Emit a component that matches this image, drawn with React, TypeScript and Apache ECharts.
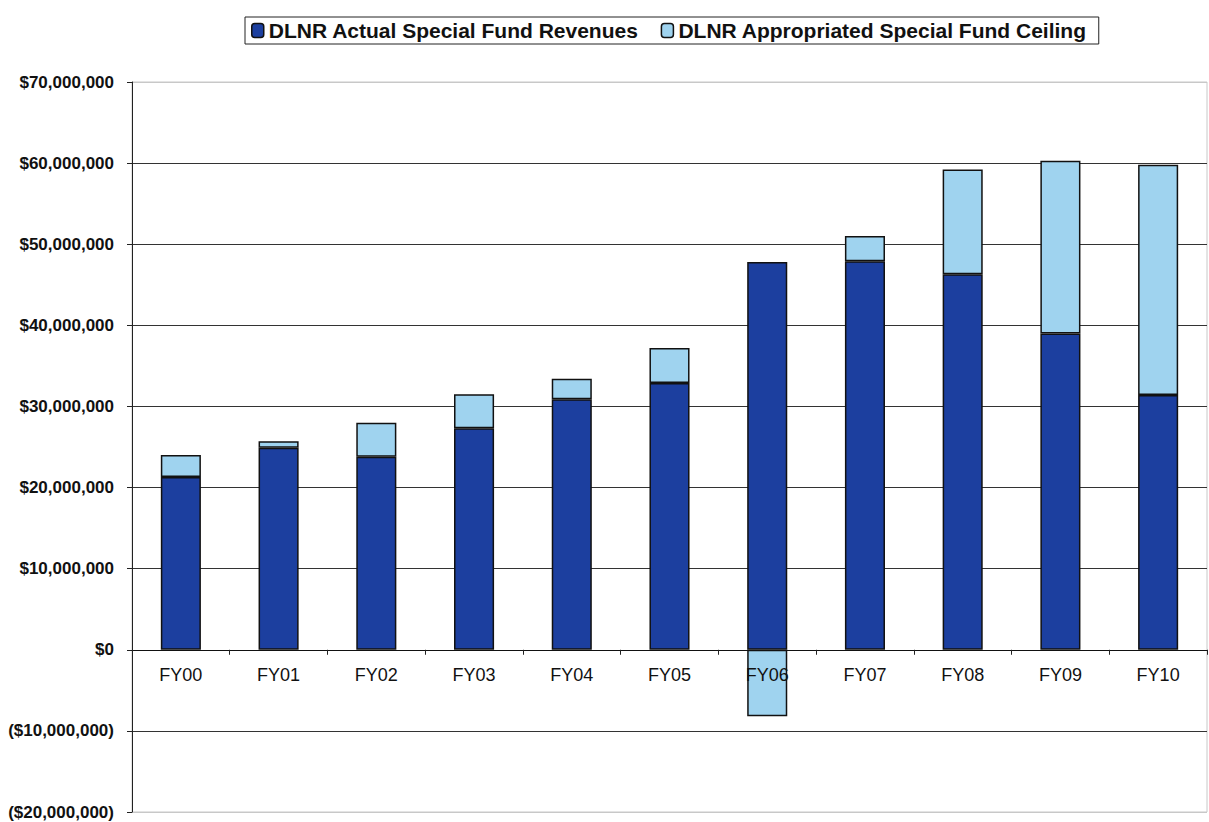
import React, { useEffect, useRef } from "react";
import * as echarts from "echarts";

const categories = ["FY00", "FY01", "FY02", "FY03", "FY04", "FY05", "FY06", "FY07", "FY08", "FY09", "FY10"];
const actualRevenues = [21300000, 24900000, 23800000, 27300000, 30900000, 32900000, 47800000, 47900000, 46300000, 39000000, 31400000];
const ceilingSegment = [2700000, 800000, 4200000, 4200000, 2500000, 4300000, -8200000, 3100000, 12900000, 21300000, 28400000];
const seriesNames = ["DLNR Actual Special Fund Revenues", "DLNR Appropriated Special Fund Ceiling"];
const yMin = -20000000;
const yMax = 70000000;
const yStep = 10000000;

const fmt = (v: number) => {
  const s = "$" + Math.abs(v).toLocaleString("en-US");
  return v < 0 ? "(" + s + ")" : s;
};

export default function App() {
  const ref = useRef<HTMLDivElement>(null);
  useEffect(() => {
    const chart = echarts.init(ref.current!, null, { renderer: "svg" });
    const font = "'Liberation Sans', Arial, sans-serif";
    chart.setOption({
      animation: false,
      backgroundColor: "#ffffff",
      legend: {
        top: 17,
        left: 245,
        itemWidth: 12,
        itemHeight: 14,
        itemGap: 22,
        itemStyle: { borderColor: "#111", borderWidth: 1.5 },
        padding: [3, 12, 3, 6],
        borderColor: "#222",
        borderWidth: 1,
        textStyle: { fontFamily: font, fontSize: 21, fontWeight: "bold", color: "#111" },
        data: seriesNames,
      },
      grid: {
        left: 132,
        right: 2,
        top: 82,
        bottom: 10,
        show: true,
        borderColor: "#c8c8c8",
        borderWidth: 1,
        outerBoundsMode: "none",
        containLabel: false,
      },
      xAxis: {
        type: "category",
        data: categories,
        position: "bottom",
        offset: 0,
        axisLine: { onZero: false, lineStyle: { color: "#111", width: 1 } },
        axisTick: { show: true, length: 5, lineStyle: { color: "#222" } },
        axisLabel: { fontFamily: font, fontSize: 18, color: "#111", margin: 16 },
        z: 5,
      },
      yAxis: {
        type: "value",
        min: yMin,
        max: yMax,
        interval: yStep,
        axisLine: { show: true, lineStyle: { color: "#222" } },
        axisTick: { show: true, length: 5, lineStyle: { color: "#222" } },
        axisLabel: { fontFamily: font, fontSize: 17, fontWeight: "bold", color: "#111", margin: 18, formatter: fmt },
        splitLine: {
          show: true,
          lineStyle: {
            width: 1,
            color: ["#c8c8c8", "#333", "#333", "#333", "#333", "#333", "#333", "#333", "#333", "#c8c8c8"],
          },
        },
      },
      series: [
        {
          name: seriesNames[0],
          type: "bar",
          stack: "total",
          data: actualRevenues,
          barWidth: "41%",
          itemStyle: { color: "#1c3f9f", borderColor: "#111", borderWidth: 1.5 },
          z: 3,
        },
        {
          name: seriesNames[1],
          type: "bar",
          stack: "total",
          data: ceilingSegment,
          barWidth: "41%",
          itemStyle: { color: "#9fd3ef", borderColor: "#111", borderWidth: 1.5 },
          z: 3,
        },
      ],
    });
    const yZero = chart.convertToPixel({ yAxisIndex: 0 }, 0) as number;
    const yBottom = chart.convertToPixel({ yAxisIndex: 0 }, yMin) as number;
    if (isFinite(yZero) && isFinite(yBottom)) {
      chart.setOption({ xAxis: { offset: yZero - yBottom } });
    }
    return () => chart.dispose();
  }, []);
  return <div ref={ref} style={{ position: "fixed", left: 0, top: 0, width: 1209, height: 822 }} />;
}
